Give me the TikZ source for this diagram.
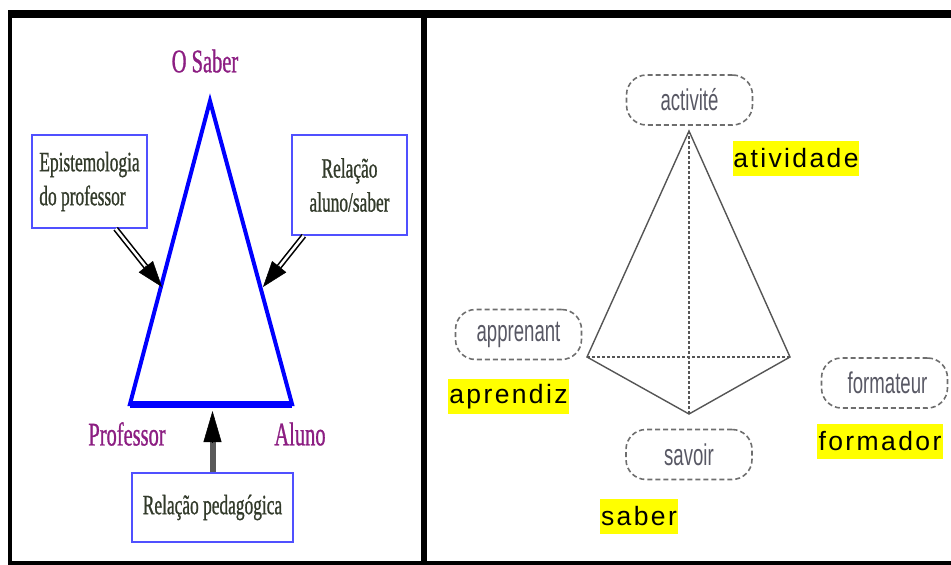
\documentclass[tikz,border=0pt]{standalone}
\usepackage{fontspec}
\setmainfont{Liberation Serif}
\newfontfamily\narrowserif[FakeStretch=0.62,FakeBold=0.8]{Liberation Serif}
\newfontfamily\narrowsans[FakeStretch=0.62]{Liberation Sans}
\newfontfamily\spacedsans[LetterSpace=9]{Liberation Sans}
\usetikzlibrary{positioning,calc,arrows.meta}
\definecolor{RolePurple}{RGB}{140,30,130}
\definecolor{BoxBlue}{RGB}{80,80,255}
\definecolor{BoxText}{RGB}{50,58,42}
\definecolor{TagGray}{RGB}{88,88,100}
\definecolor{EdgeGray}{RGB}{85,85,85}
\definecolor{MarkYellow}{RGB}{255,255,0}

\tikzset{
  role/.style={text=RolePurple, font=\narrowserif\fontsize{33}{33}\selectfont},
  bluebox/.style={draw=BoxBlue, line width=1.5pt, fill=white, text=BoxText,
    font=\narrowserif\fontsize{28}{34}\selectfont, inner sep=0pt},
  dblshaft/.style={draw=black, double=white, double distance=2.5pt, line width=1.6pt, shorten >=22pt},
  headtip/.style={-{Triangle[length=26pt,width=18pt]}, line width=0.5pt},
  tagbox/.style={draw=EdgeGray!85, dash pattern=on 5pt off 3pt, line width=1.6pt,
    rounded corners=20pt, minimum width=126pt, minimum height=50pt, inner sep=0pt,
    text=TagGray, font=\narrowsans\fontsize{30}{30}\selectfont},
  hilite/.style={fill=MarkYellow, inner sep=0pt, minimum height=35pt,
    font=\spacedsans\fontsize{26.5}{26.5}\selectfont},
  pyredge/.style={draw=EdgeGray, line width=1.4pt},
  pyrhidden/.style={draw=EdgeGray, line width=1.4pt, dash pattern=on 2.5pt off 2.5pt}
}

\begin{document}
\begin{tikzpicture}[x=1pt,y=-1pt]
  \useasboundingbox (0,0) rectangle (951,565);
  % frame
  \fill (8,10) rectangle (951,18);
  \fill (8,10) rectangle (12,565);
  \fill (421,10) rectangle (427,565);
  \fill (8,561) rectangle (951,565);

  % left: didactic triangle
  \coordinate (sabTop) at (210,101);
  \coordinate (profCorner) at (130,404);
  \coordinate (aluCorner) at (292,404);
  \draw[blue, line width=4pt] (profCorner) -- (sabTop) -- (aluCorner) -- cycle;
  \draw[blue, line width=7pt] (profCorner) -- (aluCorner);

  \node[role] (saber) at (205,61) {O Saber};
  \node[role] (prof) at (127,434) {Professor};
  \node[role] (aluno) at (300,434) {Aluno};

  \node[bluebox, minimum width=115pt, minimum height=93pt, align=left] (epist) at (89.5,181.5) {Epistemologia\\do professor};
  \node[bluebox, minimum width=115pt, minimum height=100pt, align=center] (relsab) at (349.5,185) {Relação\\aluno/saber};
  \node[bluebox, minimum width=161pt, minimum height=69pt] (relped) at (212.5,507.5) {Relação pedagógica};

  \coordinate (tipL) at (162,287);
  \coordinate (tipR) at (263,287);
  \coordinate (tipB) at (212.5,411);
  \draw[dblshaft] (epist.-61) -- (tipL);
  \draw[headtip] ($(tipL)!27pt!(epist.-61)$) -- (tipL);
  \draw[dblshaft] (relsab.228) -- (tipR);
  \draw[headtip] ($(tipR)!27pt!(relsab.228)$) -- (tipR);
  \draw[draw=black!65, line width=6pt, shorten >=28pt] (relped.north) -- (tipB);
  \draw[-{Triangle[length=31pt,width=18pt]}, line width=0.5pt] ($(tipB)!32pt!(relped.north)$) -- (tipB);

  % right: pedagogical tetrahedron
  \coordinate (pTop) at (689,131);
  \coordinate (pLeft) at (587,357);
  \coordinate (pRight) at (790,357);
  \coordinate (pBottom) at (689,414);
  \draw[pyrhidden] (pTop) -- (pBottom);
  \draw[pyrhidden] (pLeft) -- (pRight);
  \draw[pyredge] (pLeft) -- (pTop) -- (pRight) -- (pBottom) -- cycle;

  \node[tagbox] (activite) at (689.5,100) {activité};
  \node[tagbox] (apprenant) at (518.5,334.5) {apprenant};
  \node[tagbox] (formateur) at (884.5,383) {\hspace{6pt}formateur};
  \node[tagbox] (savoir) at (689,454.5) {savoir};

  \node[hilite, minimum width=126pt] (atividade) at (796,158.5) {atividade};
  \node[hilite, minimum width=121pt] (aprendiz) at (508.5,396.5) {aprendiz};
  \node[hilite, minimum width=126pt] (formador) at (880,441) {formador};
  \node[hilite, minimum width=78pt] (saberPt) at (639,516.5) {saber};
\end{tikzpicture}
\end{document}
